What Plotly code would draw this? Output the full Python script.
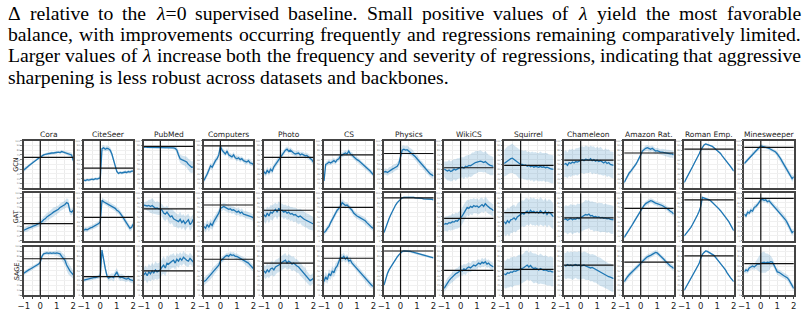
import re
import plotly.graph_objects as go

# ---------------- data ----------------
LAMBDA = [-1.0, -0.9, -0.8, -0.7, -0.6, -0.5, -0.4, -0.3, -0.2, -0.1, 0.0,
          0.1, 0.2, 0.3, 0.4, 0.5, 0.6, 0.7, 0.8, 0.9, 1.0,
          1.1, 1.2, 1.3, 1.4, 1.5, 1.6, 1.7, 1.8, 1.9, 2.0]

DATASETS = ["Cora", "CiteSeer", "PubMed", "Computers", "Photo", "CS", "Physics",
            "WikiCS", "Squirrel", "Chameleon", "Amazon Rat.", "Roman Emp.", "Minesweeper"]
MODELS = ["GCN", "GAT", "SAGE"]

X_TICK_VALS = [-1, -0.5, 0, 0.5, 1, 1.5, 2]
X_TICK_TEXT = ["\u22121", "", "0", "", "1", "", "2"]

# mean score (relative units) per dataset, per backbone
GCN_MEAN = [
    [38,42,44,47,50,53,56,58,61,63,65,68,70,71,72,73,73,74,74,75,75,76,75,77,76,75,74,73,71,70,58],
    [17,16,18,17,18,19,18,20,19,21,22,83,85,82,84,83,80,72,60,48,35,31,33,32,33,34,33,35,34,36,36],
    [86,87,86,86,85,86,86,85,86,86,85,86,86,85,86,85,86,85,85,84,80,70,62,60,58,57,55,50,46,44,45],
    [16,22,30,38,47,44,52,58,62,70,88,80,76,72,78,70,68,66,70,64,62,64,60,62,58,56,55,58,53,52,50],
    [35,30,38,32,40,36,45,50,55,60,66,70,76,80,82,78,80,76,74,72,73,74,70,72,70,68,69,66,64,60,55],
    [15,50,52,55,53,56,58,55,60,62,68,70,72,74,72,78,72,70,66,62,60,58,55,50,48,45,42,40,36,32,28],
    [34,35,33,36,38,40,42,44,46,52,70,80,82,80,81,78,76,74,70,66,62,58,52,50,45,40,36,34,30,28,26],
    [40,38,36,38,35,37,40,38,41,42,43,44,42,46,45,48,47,50,52,54,55,56,57,56,54,56,52,50,48,47,46],
    [52,55,58,60,62,63,60,58,55,52,50,50,48,49,46,48,45,47,44,46,45,44,46,44,45,43,44,42,41,40,40],
    [50,52,48,54,52,55,53,56,55,57,59,60,58,61,60,59,62,58,60,57,59,56,58,55,53,56,52,54,50,49,48],
    [12,20,26,32,36,40,45,50,56,62,70,78,82,84,85,83,82,84,80,78,79,77,76,76,75,74,74,73,72,72,70],
    [12,18,25,32,38,45,52,58,65,72,80,87,91,93,92,91,90,88,85,82,80,77,73,68,64,60,55,50,46,41,36],
    [52,56,60,64,68,72,75,78,82,85,89,88,87,86,86,84,82,80,78,76,72,68,62,56,50,44,38,32,28,20,24],
]
GAT_MEAN = [
    [22,24,25,27,28,30,31,32,34,35,37,40,44,46,50,52,55,57,60,62,64,66,70,72,74,76,80,78,62,60,64],
    [22,24,23,26,27,28,30,31,33,36,40,85,82,80,78,76,74,72,70,68,64,62,58,54,48,42,36,30,26,28,35],
    [75,74,73,74,72,74,70,68,69,67,67,64,58,56,60,54,50,52,46,44,42,40,45,38,42,36,40,44,34,38,45],
    [30,26,34,28,36,32,40,46,50,58,68,70,72,70,68,66,67,64,65,62,60,62,58,60,56,55,54,53,52,50,48],
    [55,50,58,52,60,58,62,66,60,68,63,64,60,62,58,60,56,57,54,55,52,50,52,48,46,44,42,40,38,36,35],
    [17,20,26,30,38,45,50,58,64,68,72,80,76,74,75,72,68,64,58,54,52,50,48,46,44,42,38,34,31,28,26],
    [17,28,38,46,54,62,69,75,80,84,88,90,91,91,92,92,92,91,91,90,90,90,89,89,88,88,88,87,87,87,86],
    [34,36,35,38,37,40,39,42,41,44,47,52,58,64,70,68,72,70,74,72,73,70,74,76,72,78,74,70,68,66,63],
    [40,36,42,38,44,45,48,44,50,52,55,58,56,60,62,58,64,60,62,59,61,58,63,60,57,62,55,60,58,54,50],
    [44,46,43,45,47,44,46,45,48,46,48,50,52,55,54,56,52,53,50,51,49,50,48,49,47,48,46,47,45,44,44],
    [7,12,18,24,28,34,40,46,52,58,64,70,74,78,80,82,84,83,80,79,78,77,76,74,72,70,68,65,62,60,56],
    [10,14,18,23,28,34,40,47,54,62,72,91,90,89,88,86,84,81,78,75,71,67,63,59,55,50,45,40,34,28,21],
    [56,52,60,58,64,62,70,72,76,80,86,87,85,86,82,84,80,76,72,68,66,62,58,54,48,44,38,30,22,17,20],
]
SAGE_MEAN = [
    [45,48,50,52,54,56,58,60,62,64,68,80,85,86,87,86,87,86,87,86,87,86,85,80,76,72,62,55,50,46,42],
    [31,32,33,34,34,35,36,36,37,38,40,93,70,55,40,35,37,38,36,42,48,40,36,37,35,34,33,35,32,31,30],
    [42,46,40,48,44,50,46,52,48,50,52,58,62,56,66,64,68,70,72,66,74,70,76,72,78,74,72,70,76,72,68],
    [28,30,34,38,40,46,50,54,58,62,70,74,76,80,82,80,84,82,83,80,80,78,76,75,72,70,68,66,62,58,55],
    [50,46,52,48,54,56,52,58,60,62,64,68,70,72,66,70,68,64,66,62,60,58,54,50,46,44,38,34,30,32,35],
    [28,38,32,44,40,50,46,56,60,68,78,76,80,74,78,70,72,66,62,58,54,50,46,42,38,34,30,26,22,20,18],
    [21,34,44,52,58,64,70,75,79,83,87,90,91,91,91,90,90,89,88,87,86,85,84,83,82,81,80,79,78,77,77],
    [14,20,26,30,34,38,40,44,46,48,52,50,54,52,56,58,56,60,62,60,64,66,64,68,66,69,64,66,62,60,58],
    [44,42,46,45,48,47,50,49,51,52,53,55,57,60,62,58,61,57,55,56,54,52,55,53,51,52,50,49,50,48,48],
    [62,60,63,61,62,60,62,63,61,62,60,61,62,60,59,58,56,57,55,54,52,50,48,46,44,42,40,38,37,35,34],
    [28,34,38,42,45,48,52,56,58,62,66,70,73,76,79,80,82,84,86,88,87,84,80,76,74,70,66,62,60,58,55],
    [10,16,22,28,34,40,46,52,58,65,76,84,88,91,90,88,86,84,82,78,74,70,66,62,58,52,46,40,36,32,28],
    [48,52,50,56,58,60,58,62,64,64,66,67,68,66,68,67,69,68,62,54,48,47,44,42,40,38,36,32,26,20,14],
]

# standard deviation (same units)
GCN_STD = [
    [4,4,3,3,3,3,3,2,3,2,2,2,3,2,3,2,3,3,2,3,3,2,3,3,3,3,4,4,4,5,6],
    [3,3,3,3,3,3,3,3,3,3,4,6,6,5,6,5,6,6,5,4,3,3,3,3,3,3,3,3,3,3,3],
    [2,2,2,2,2,2,2,2,2,2,2,2,2,2,2,2,2,2,3,4,6,8,9,9,10,10,11,12,13,12,12],
    [5,6,6,7,6,7,6,7,6,6,7,6,6,5,6,5,6,5,6,5,6,5,6,5,5,6,5,5,6,5,5],
    [6,6,7,6,7,6,6,7,6,6,7,6,6,5,6,5,6,6,5,6,5,5,6,5,6,5,6,6,6,7,7],
    [6,5,5,6,5,5,6,5,5,6,6,5,5,6,5,5,5,6,5,5,6,5,5,5,6,5,5,5,6,5,5],
    [6,7,7,8,7,8,8,7,8,8,9,9,8,8,9,8,8,8,7,8,7,7,7,7,7,6,6,7,7,7,7],
    [16,18,20,22,21,22,21,23,22,21,22,21,23,22,24,23,24,25,23,24,23,22,23,22,21,22,21,20,21,20,19],
    [28,29,30,29,30,31,30,29,30,31,30,29,30,31,30,29,30,30,31,30,29,30,31,30,29,30,30,29,30,30,29],
    [27,28,27,28,29,28,27,28,29,28,27,28,28,29,28,27,28,29,28,27,28,28,29,28,27,28,29,28,27,28,28],
    [4,4,4,4,4,4,4,4,4,4,5,5,5,6,6,6,6,6,6,6,6,6,6,7,7,7,7,8,8,8,8],
    [2,2,2,2,2,2,2,2,2,2,2,2,2,2,2,2,2,2,2,2,2,2,2,2,2,2,2,2,2,3,3],
    [4,4,5,4,4,5,4,4,4,4,4,4,4,4,4,4,4,4,4,4,4,5,5,5,5,5,6,6,6,7,6],
]
GAT_STD = [
    [5,5,6,6,5,6,6,5,6,6,6,7,7,8,8,8,9,9,10,9,9,8,8,8,8,8,9,9,8,7,7],
    [5,5,5,5,5,5,5,5,5,5,5,6,6,6,6,6,6,6,6,6,6,6,6,6,6,6,6,6,6,6,6],
    [6,8,10,12,14,16,14,13,14,13,12,13,14,15,14,15,16,15,16,15,14,15,16,15,14,15,14,13,14,13,12],
    [8,9,10,9,10,9,10,9,9,8,8,8,7,8,7,8,7,8,7,8,7,8,7,8,7,7,8,7,7,7,7],
    [14,15,14,16,15,16,15,14,16,15,15,14,15,14,15,14,15,14,15,14,15,16,15,16,15,16,15,16,15,14,14],
    [6,6,6,6,6,6,6,6,6,6,6,7,7,7,6,6,6,6,6,6,6,6,6,6,6,6,6,6,6,6,6],
    [3,3,3,2,2,2,2,2,2,2,2,2,2,2,2,2,2,2,2,2,2,2,2,2,2,2,2,2,2,2,2],
    [14,15,16,15,16,17,16,17,16,17,18,17,18,17,16,17,16,17,16,15,16,15,16,15,14,15,14,14,13,13,13],
    [26,27,28,29,28,29,28,27,28,29,28,27,28,29,28,27,28,28,29,28,27,28,29,28,27,28,28,27,28,28,27],
    [28,29,30,29,30,31,30,29,30,31,30,29,30,31,30,29,30,30,31,30,29,30,31,30,29,30,30,29,30,30,29],
    [4,4,4,4,4,4,4,4,4,4,4,4,4,5,5,5,5,5,5,5,5,5,5,5,5,5,5,6,6,6,6],
    [2,2,2,2,2,2,2,2,2,2,2,2,2,2,2,2,2,2,2,2,2,2,2,2,2,2,2,2,2,2,2],
    [5,5,6,5,6,5,6,5,5,5,5,5,5,5,5,5,5,6,6,6,6,6,6,7,7,7,7,7,6,6,6],
]
SAGE_STD = [
    [4,4,4,4,4,4,4,4,4,4,4,4,4,4,4,4,4,4,4,5,5,6,7,8,9,10,11,12,10,9,8],
    [4,4,4,4,4,4,4,4,4,4,5,6,7,7,6,6,7,7,8,8,8,7,7,7,6,6,6,6,6,6,6],
    [14,15,16,17,16,17,16,18,17,16,17,16,18,17,16,15,16,14,15,14,13,14,13,12,13,12,13,12,12,11,11],
    [8,9,10,9,8,9,8,8,7,7,7,6,6,6,6,6,6,6,6,6,6,6,6,6,6,6,7,7,7,7,7],
    [12,13,14,13,14,15,14,15,14,15,16,15,16,15,14,15,14,15,14,13,14,13,14,13,12,13,12,12,11,11,11],
    [9,10,9,10,9,10,9,10,9,9,8,8,8,7,7,7,7,7,7,7,7,6,6,6,6,6,6,6,6,6,6],
    [3,3,3,2,2,2,2,2,2,2,2,2,2,2,2,2,2,2,2,2,2,2,2,2,2,2,2,2,2,2,2],
    [8,9,10,9,10,9,10,11,10,11,10,11,10,11,10,10,9,10,9,9,9,8,8,9,8,8,8,8,8,8,8],
    [28,29,30,29,30,31,30,29,30,31,30,29,30,31,30,29,30,30,31,30,29,30,31,30,29,30,30,29,30,30,29],
    [26,27,28,27,28,29,28,27,28,29,28,27,28,29,28,27,28,28,29,28,27,28,29,28,27,28,28,27,28,28,27],
    [5,5,5,5,5,5,5,5,5,5,5,5,5,5,5,5,5,5,5,5,5,5,5,5,5,5,5,6,6,6,6],
    [2,2,2,2,2,2,2,2,2,2,2,2,2,2,2,2,2,2,2,2,2,2,2,2,2,2,2,2,2,2,2],
    [6,6,6,6,6,6,6,8,12,16,20,22,22,20,18,16,12,8,6,6,6,6,6,6,6,6,6,6,6,6,6],
]

# lambda = 0 supervised baseline per dataset
GCN_BASE = [65, 42, 88, 89, 65, 70, 73, 43, 48, 59, 74, 82, 86]
GAT_BASE = [36, 49, 67, 75, 64, 70, 90, 47, 59, 48, 68, 86, 89]
SAGE_BASE = [75, 38, 50, 74, 66, 76, 91, 51, 53, 62, 68, 81, 65]

# paragraph above the figure (justified lines, last line ragged)
TEXT_LINES = [
    "\u0394 relative to the <i>\u03bb</i>=0 supervised baseline.  Small positive values of <i>\u03bb</i> yield the most favorable",
    "balance, with improvements occurring frequently and regressions remaining comparatively limited.",
    "Larger values of <i>\u03bb</i> increase both the frequency and severity of regressions, indicating that aggressive",
    "sharpening is less robust across datasets and backbones.",
]
TEXT_JUSTIFY = [True, True, True, False]

# Times-compatible advance widths (1/1000 em) used to justify the text lines
GLYPH_W = {
    "a": 444, "b": 500, "c": 444, "d": 500, "e": 444, "f": 333, "g": 500, "h": 500,
    "i": 278, "j": 278, "k": 500, "l": 278, "m": 778, "n": 500, "o": 500, "p": 500,
    "q": 500, "r": 333, "s": 389, "t": 278, "u": 500, "v": 500, "w": 722, "x": 500,
    "y": 500, "z": 444, "L": 611, "S": 556, ",": 250, ".": 250, "=": 564, "0": 500,
    "\u0394": 612, "\u03bb": 480, " ": 250,
}

# ---------------- layout geometry ----------------
W, H = 808, 312
COL_X0 = 18.0
COL_PITCH = 60.72
PANEL_W = 50.0
ROW_TOP = [141, 194, 248]
ROW_BOT = [189, 242, 297]
TEXT_FS = 19.7
TEXT_LEFT, TEXT_RIGHT = 1.0, 802.0
TEXT_Y = [12, 33.5, 55, 77]

BLUE = "#1f77b4"
BAND = "rgba(31,119,180,0.20)"

MEANS = [GCN_MEAN, GAT_MEAN, SAGE_MEAN]
STDS = [GCN_STD, GAT_STD, SAGE_STD]
BASES = [GCN_BASE, GAT_BASE, SAGE_BASE]

fig = go.Figure()
layout = dict(width=W, height=H, margin=dict(l=0, r=0, t=0, b=0),
              paper_bgcolor="white", plot_bgcolor="white", showlegend=False)
shapes = []
annotations = []

def px(x):
    return x / W

def py(y):
    return 1 - y / H

n = 0
for r, model in enumerate(MODELS):
    for c, ds in enumerate(DATASETS):
        n += 1
        xa = "x" if n == 1 else f"x{n}"
        ya = "y" if n == 1 else f"y{n}"
        xkey = "xaxis" if n == 1 else f"xaxis{n}"
        ykey = "yaxis" if n == 1 else f"yaxis{n}"
        x0 = COL_X0 + COL_PITCH * c
        bottom = (r == len(MODELS) - 1)
        layout[xkey] = dict(
            domain=[px(x0), px(x0 + PANEL_W)], anchor=ya, range=[-1, 2],
            tickvals=X_TICK_VALS, ticktext=X_TICK_TEXT, showticklabels=bottom,
            ticks="outside" if bottom else "", ticklen=2, tickcolor="#444",
            tickfont=dict(family="DejaVu Sans", size=8.5, color="#222"),
            showgrid=True, gridcolor="#ebebeb", gridwidth=0.6,
            showline=True, mirror=True, linecolor="#444", linewidth=1.6,
            zeroline=False, fixedrange=True)
        layout[ykey] = dict(
            domain=[py(ROW_BOT[r]), py(ROW_TOP[r])], anchor=xa, range=[0, 100],
            dtick=10, showticklabels=True, ticks="outside", ticklen=1.5,
            tickcolor="#888", tickwidth=0.5,
            tickfont=dict(family="DejaVu Sans", size=2.5, color="#777"),
            showgrid=True, gridcolor="#f0f0f0", gridwidth=0.5,
            showline=True, mirror=True, linecolor="#444", linewidth=1.6,
            zeroline=False, fixedrange=True)

        mean = MEANS[r][c]
        std = STDS[r][c]
        upper = [m + s for m, s in zip(mean, std)]
        lower = [m - s for m, s in zip(mean, std)]
        fig.add_trace(go.Scatter(
            x=LAMBDA + LAMBDA[::-1], y=upper + lower[::-1], xaxis=xa, yaxis=ya,
            fill="toself", fillcolor=BAND, line=dict(width=0), mode="lines",
            hoverinfo="skip"))
        fig.add_trace(go.Scatter(
            x=LAMBDA, y=mean, xaxis=xa, yaxis=ya, mode="lines",
            line=dict(color=BLUE, width=1.3)))

        shapes.append(dict(type="line", xref=xa, yref=f"{ya} domain",
                           x0=0, x1=0, y0=0, y1=1,
                           line=dict(color="#111", width=1.2)))
        shapes.append(dict(type="line", xref=f"{xa} domain", yref=ya,
                           x0=0, x1=1, y0=BASES[r][c], y1=BASES[r][c],
                           line=dict(color="#111", width=1.2)))

        if r == 0:
            annotations.append(dict(
                text=ds, xref="paper", yref="paper",
                x=px(x0 + PANEL_W / 2), y=py(135), xanchor="center",
                yanchor="middle", showarrow=False,
                font=dict(family="DejaVu Sans", size=7.5, color="#222")))
    annotations.append(dict(
        text=model, xref="paper", yref="paper", x=px(10.5),
        y=py((ROW_TOP[r] + ROW_BOT[r]) / 2), textangle=-90,
        xanchor="center", yanchor="middle", showarrow=False,
        font=dict(family="DejaVu Sans", size=6.5, color="#222")))


def word_width(word):
    plain = re.sub(r"<[^>]+>", "", word)
    return sum(GLYPH_W.get(ch, 500) for ch in plain) * TEXT_FS / 1000.0


text_font = dict(family="Liberation Serif", size=TEXT_FS, color="#000")
for line, ty, justify in zip(TEXT_LINES, TEXT_Y, TEXT_JUSTIFY):
    if not justify:
        annotations.append(dict(
            text=line, xref="paper", yref="paper", x=px(TEXT_LEFT), y=py(ty),
            xanchor="left", yanchor="middle", showarrow=False, borderpad=0,
            font=text_font))
        continue
    words = line.split()
    widths = [word_width(w) for w in words]
    gap = (TEXT_RIGHT - TEXT_LEFT - sum(widths)) / (len(words) - 1)
    cur = TEXT_LEFT
    for w, ww in zip(words, widths):
        annotations.append(dict(
            text=w, xref="paper", yref="paper", x=px(cur), y=py(ty),
            xanchor="left", yanchor="middle", showarrow=False, borderpad=0,
            font=text_font))
        cur += ww + gap

layout["shapes"] = shapes
layout["annotations"] = annotations
fig.update_layout(**layout)
fig.write_html("out.html")
